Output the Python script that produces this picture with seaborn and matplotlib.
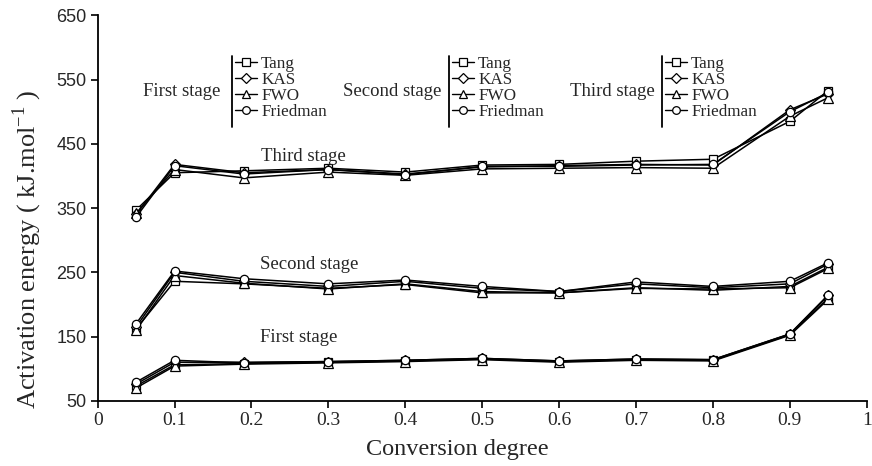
import matplotlib
matplotlib.use("Agg")
import matplotlib.pyplot as plt
from matplotlib.lines import Line2D
import numpy as np
import pandas as pd
import seaborn as sns

# Conversion degrees (alpha) at which activation energy was evaluated
alpha = [0.05, 0.1, 0.19, 0.3, 0.4, 0.5, 0.6, 0.7, 0.8, 0.9, 0.95]

methods = ["Tang", "KAS", "FWO", "Friedman"]
stages = ["First stage", "Second stage", "Third stage"]

# Activation energy (kJ/mol) per stage and method
first_tang = [73, 106, 108, 110, 112, 115, 111, 114, 113, 153, 210]
first_kas = [76, 110, 110, 111, 113, 116, 112, 115, 114, 154, 214]
first_fwo = [70, 104, 107, 109, 111, 114, 110, 113, 112, 152, 208]
first_friedman = [79, 113, 109, 111, 113, 116, 112, 115, 114, 154, 215]

second_tang = [162, 236, 232, 225, 231, 218, 218, 226, 222, 228, 258]
second_kas = [165, 250, 236, 228, 236, 225, 220, 232, 226, 232, 263]
second_fwo = [160, 245, 233, 224, 232, 220, 218, 225, 224, 226, 256]
second_friedman = [170, 252, 240, 232, 238, 228, 220, 235, 228, 236, 265]

third_tang = [347, 405, 408, 412, 406, 417, 418, 423, 426, 485, 533]
third_kas = [340, 418, 405, 410, 403, 414, 416, 418, 417, 503, 528]
third_fwo = [342, 410, 397, 406, 401, 411, 412, 413, 412, 493, 522]
third_friedman = [336, 416, 403, 410, 402, 415, 415, 417, 418, 500, 530]

y_ticks = [50, 150, 250, 350, 450, 550, 650]
x_ticks = [0, 0.1, 0.2, 0.3, 0.4, 0.5, 0.6, 0.7, 0.8, 0.9, 1]
x_ticklabels = ["0", "0.1", "0.2", "0.3", "0.4", "0.5", "0.6", "0.7", "0.8", "0.9", "1"]

series = {
    "First stage": [first_tang, first_kas, first_fwo, first_friedman],
    "Second stage": [second_tang, second_kas, second_fwo, second_friedman],
    "Third stage": [third_tang, third_kas, third_fwo, third_friedman],
}

rows = []
for stage in stages:
    for method, vals in zip(methods, series[stage]):
        for a, e in zip(alpha, vals):
            rows.append({"stage": stage, "method": method, "alpha": a, "energy": e})
df = pd.DataFrame(rows)

sns.set_theme(style="ticks")
serif = ["Liberation Serif", "DejaVu Serif"]
plt.rcParams["font.family"] = serif
plt.rcParams["mathtext.fontset"] = "custom"
plt.rcParams["mathtext.rm"] = "Liberation Serif"

marker_map = {"Tang": "s", "KAS": "D", "FWO": "^", "Friedman": "o"}
marker_size = {"Tang": 6, "KAS": 5.5, "FWO": 6.5, "Friedman": 6}

fig = plt.figure(figsize=(8.72, 4.66), dpi=100)
ax = fig.add_axes([0.112, 0.14, 0.882, 0.827])

for stage in stages:
    sub = df[df["stage"] == stage]
    for method in methods:
        m = sub[sub["method"] == method]
        sns.lineplot(data=m, x="alpha", y="energy", ax=ax, color="black",
                     lw=1.1, marker=marker_map[method], markersize=marker_size[method],
                     markerfacecolor="white", markeredgecolor="black",
                     markeredgewidth=0.9, legend=False)

ax.set_xlim(0, 1)
ax.set_ylim(50, 650)
ax.set_xticks(x_ticks)
ax.set_xticklabels(x_ticklabels, fontsize=14, family=serif)
ax.set_yticks(y_ticks)
ax.set_yticklabels([str(v) for v in y_ticks], fontsize=13,
                   family=["Liberation Sans", "DejaVu Sans"])
ax.tick_params(axis="both", direction="out", length=5, width=1.2, color="black", pad=3)
for side in ("top", "right"):
    ax.spines[side].set_visible(False)
for side in ("left", "bottom"):
    ax.spines[side].set_linewidth(1.3)
    ax.spines[side].set_color("black")

ax.set_xlabel("Conversion degree", fontsize=17.5, family=serif)
ax.xaxis.set_label_coords(0.467, -0.1)
ax.set_ylabel("Activation energy ( kJ.mol$^{\\mathregular{-1}}$ )", fontsize=19, family=serif)
ax.yaxis.set_label_coords(-0.07, 0.394)

# Stage labels next to the curve groups
ax.text(0.268, 430, "Third stage", fontsize=13.5, ha="center", va="center")
ax.text(0.275, 262, "Second stage", fontsize=13.5, ha="center", va="center")
ax.text(0.262, 149, "First stage", fontsize=13.5, ha="center", va="center")

# Method legends, one per stage, each with a stage caption and a separator bar
handles = [Line2D([], [], color="black", lw=1.0, marker=marker_map[mt],
                  markersize=marker_size[mt] - 0.5, markerfacecolor="white",
                  markeredgecolor="black", markeredgewidth=0.9) for mt in methods]

W, H = 872.0, 466.0
legend_specs = [("First stage", 182, 232), ("Second stage", 392, 449), ("Third stage", 612, 662)]
for caption, cx, bar_x in legend_specs:
    fig.text(cx / W, 1 - 91 / H, caption, fontsize=13.5, ha="center", va="center")
    fig.add_artist(Line2D([bar_x / W, bar_x / W], [1 - 56 / H, 1 - 127 / H],
                          color="black", lw=1.3))
    fig.legend(handles, methods, loc="upper left",
               bbox_to_anchor=(bar_x / W + 0.003, 1 - 56 / H),
               frameon=False, fontsize=12.3, handlelength=1.3,
               handletextpad=0.25, labelspacing=0.0, borderpad=0.0,
               borderaxespad=0.0)

fig.savefig("out.png", dpi=100)
